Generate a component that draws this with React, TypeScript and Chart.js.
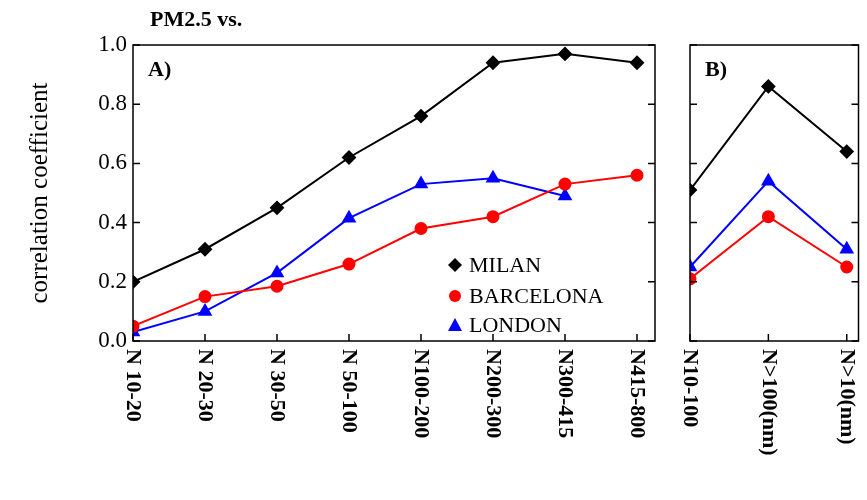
import React, { useEffect, useRef } from "react";
import { Chart, registerables } from "chart.js";

Chart.register(...registerables);

const catsA = ["N 10-20", "N 20-30", "N 30-50", "N 50-100", "N100-200", "N200-300", "N300-415", "N415-800"];
const milanA = [0.2, 0.31, 0.45, 0.62, 0.76, 0.94, 0.97, 0.94];
const barcelonaA = [0.05, 0.15, 0.185, 0.26, 0.38, 0.42, 0.53, 0.56];
const londonA = [0.03, 0.1, 0.23, 0.415, 0.53, 0.55, 0.49, null];

const catsB = ["N10-100", "N>100(nm)", "N>10(nm)"];
const milanB = [0.51, 0.86, 0.64];
const barcelonaB = [0.21, 0.42, 0.25];
const londonB = [0.25, 0.54, 0.31];

const yTicks = [0, 0.2, 0.4, 0.6, 0.8, 1.0];

const SERIF = "'Liberation Serif', 'Times New Roman', serif";

const series = [
  { label: "MILAN", color: "#000000", style: "rectRot", r: 6 },
  { label: "BARCELONA", color: "#ff0000", style: "circle", r: 5.5 },
  { label: "LONDON", color: "#0000ff", style: "triangle", r: 6.5 },
];

const toXY = (vals: (number | null)[]) => vals.map((v, i) => ({ x: i, y: v }));

const makeDatasets = (sets: (number | null)[][]) =>
  sets.map((vals, k) => ({
    label: series[k].label,
    data: toXY(vals),
    borderColor: series[k].color,
    backgroundColor: series[k].color,
    pointStyle: series[k].style,
    pointRadius: series[k].r,
    borderWidth: 2,
    spanGaps: false,
  }));

const panelPlugin = (cats: string[], tag: string, extra: boolean) => ({
  id: "panel" + tag,
  afterDraw(chart: any) {
    const { ctx, chartArea: a, scales } = chart;
    ctx.save();
    ctx.strokeStyle = "#000";
    ctx.lineWidth = 1.5;
    ctx.strokeRect(a.left, a.top, a.right - a.left, a.bottom - a.top);
    // y tick marks inside, both sides
    yTicks.forEach((t) => {
      const y = scales.y.getPixelForValue(t);
      ctx.beginPath();
      ctx.moveTo(a.left, y);
      ctx.lineTo(a.left + 7, y);
      ctx.moveTo(a.right, y);
      ctx.lineTo(a.right - 7, y);
      ctx.stroke();
    });
    // x labels rotated, reading top to bottom
    ctx.fillStyle = "#000";
    ctx.font = "bold 22px " + SERIF;
    ctx.textAlign = "left";
    ctx.textBaseline = "middle";
    cats.forEach((c, i) => {
      const x = scales.x.getPixelForValue(i);
      ctx.beginPath();
      ctx.moveTo(x, a.bottom);
      ctx.lineTo(x, a.bottom - 7);
      ctx.stroke();
      ctx.save();
      ctx.translate(x, a.bottom + 8);
      ctx.rotate(Math.PI / 2);
      ctx.fillText(c, 0, 0);
      ctx.restore();
    });
    ctx.font = "bold 22px " + SERIF;
    ctx.textBaseline = "middle";
    ctx.fillText(tag, a.left + 15, a.top + 25);
    if (extra) {
      ctx.fillText("PM2.5 vs.", a.left + 17, 20);
      ctx.font = "22px " + SERIF;
      const rows = [265, 296, 325];
      series.forEach((s, k) => {
        const y = rows[k];
        const x = 455;
        ctx.fillStyle = s.color;
        ctx.beginPath();
        if (s.style === "rectRot") {
          ctx.moveTo(x, y - 7); ctx.lineTo(x + 7, y); ctx.lineTo(x, y + 7); ctx.lineTo(x - 7, y);
        } else if (s.style === "circle") {
          ctx.arc(x, y, 6, 0, Math.PI * 2);
        } else {
          ctx.moveTo(x, y - 7); ctx.lineTo(x + 7, y + 6); ctx.lineTo(x - 7, y + 6);
        }
        ctx.closePath();
        ctx.fill();
        ctx.fillStyle = "#000";
        ctx.fillText(s.label, x + 14, y + 1);
      });
    }
    ctx.restore();
  },
});

const PanelChart = (props: { cats: string[]; sets: (number | null)[][]; tag: string; showY: boolean; xMax: number; padding: any; width: number }) => {
  const ref = useRef<HTMLCanvasElement | null>(null);
  useEffect(() => {
    if (!ref.current) return;
    const chart = new Chart(ref.current, {
      type: "line",
      data: { datasets: makeDatasets(props.sets) as any },
      options: {
        animation: false,
        responsive: false,
        layout: { padding: props.padding },
        plugins: { legend: { display: false }, tooltip: { enabled: false } },
        scales: {
          x: { type: "linear", min: 0, max: props.xMax, display: false },
          y: {
            min: 0,
            max: 1,
            display: props.showY,
            afterFit: (s: any) => { s.width = props.showY ? 108 : 0; },
            afterBuildTicks: (s: any) => { s.ticks = yTicks.map((v) => ({ value: v })); },
            grid: { drawOnChartArea: false, drawTicks: false },
            border: { display: false },
            ticks: {
              color: "#000",
              padding: 6,
              font: { family: SERIF, size: 23 },
              callback: (v: any) => Number(v).toFixed(1),
            },
            title: {
              display: true,
              text: "correlation coefficient",
              color: "#000",
              font: { family: SERIF, size: 25 },
              padding: { top: 0, bottom: 4 },
            },
          },
        },
      },
      plugins: [panelPlugin(props.cats, props.tag, props.showY)],
    } as any);
    return () => chart.destroy();
  }, []);
  return <canvas ref={ref} width={props.width} height={500} style={{ display: "block" }} />;
};

export default function App() {
  return (
    <div style={{ position: "absolute", left: 0, top: 0, width: 867, height: 500, background: "#fff", display: "flex" }}>
      <PanelChart cats={catsA} sets={[milanA, barcelonaA, londonA]} tag="A)" showY={true} xMax={7.25} width={680}
        padding={{ left: 25, right: 25, top: 45, bottom: 159 }} />
      <PanelChart cats={catsB} sets={[milanB, barcelonaB, londonB]} tag="B)" showY={false} xMax={2.15} width={187}
        padding={{ left: 10, right: 7, top: 45, bottom: 159 }} />
    </div>
  );
}
